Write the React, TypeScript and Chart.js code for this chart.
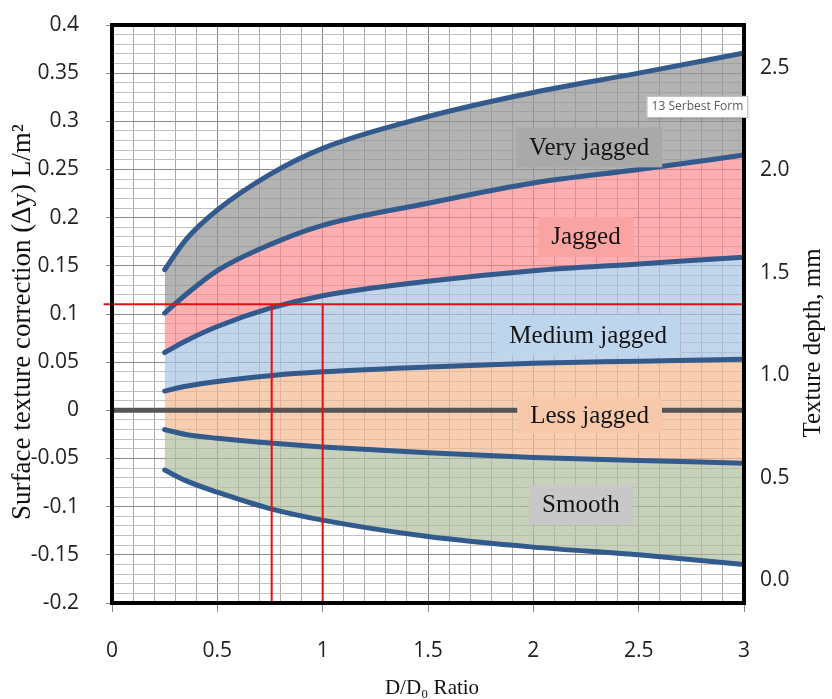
import React, { useEffect, useRef } from 'react';
import { Chart, registerables } from 'chart.js';

Chart.register(...registerables);

// D/D0 ratio sample points
const ratios = [0.25, 0.35, 0.5, 0.75, 1, 1.5, 2, 2.5, 3];
// boundary curves (Surface texture correction, L/m2)
const veryJaggedTop = [0.146, 0.177, 0.208, 0.245, 0.272, 0.305, 0.330, 0.350, 0.371];
const jaggedTop = [0.101, 0.120, 0.145, 0.172, 0.192, 0.215, 0.236, 0.250, 0.265];
const mediumTop = [0.060, 0.072, 0.087, 0.106, 0.119, 0.134, 0.145, 0.152, 0.159];
const lessTop = [0.020, 0.025, 0.030, 0.036, 0.040, 0.045, 0.049, 0.051, 0.053];
const smoothTop = [-0.020, -0.025, -0.029, -0.034, -0.038, -0.044, -0.049, -0.052, -0.055];
const smoothBottom = [-0.062, -0.073, -0.085, -0.102, -0.114, -0.131, -0.142, -0.150, -0.160];

// reference lines
const zeroLineX = [0, 3];
const zeroLineY = [0, 0];
const redHX = [-0.04, 3];
const redHY = [0.11, 0.11];
const redV1X = [0.758, 0.758];
const redV2X = [1, 1];
const redVY = [0.11, -0.2];

// band labels
const bandLabels = ['Very jagged', 'Jagged', 'Medium jagged', 'Less jagged', 'Smooth'];
const bandLabelX = [2.265, 2.25, 2.26, 2.267, 2.226];
const bandLabelY = [0.273, 0.18, 0.078, -0.005, -0.098];
const bandFills = ['rgba(150,150,150,0.72)', 'rgba(250,130,135,0.65)', 'rgba(170,195,225,0.7)', 'rgba(245,185,145,0.7)', 'rgba(175,190,160,0.7)'];
const bandLabelBg = ['#a9a9a9', '#f9a3a3', '#bdd6ee', '#f7c8a9', '#c8c8c8'];

const noteText = '13 Serbest Form';
const noteX = 2.779;
const noteY = 0.315;

// axes
const leftTicks = [-0.2, -0.15, -0.1, -0.05, 0, 0.05, 0.1, 0.15, 0.2, 0.25, 0.3, 0.35, 0.4];
const rightTicks = [0, 0.5, 1, 1.5, 2, 2.5];
const rightMin = -0.111;
const rightMax = 2.708;
const xTitle = 'D/D\u2080 Ratio';
const yTitle = 'Surface texture correction (\u0394y) L/m\u00B2';
const y2Title = 'Texture depth, mm';

const pts = (xs: number[], ys: number[]) => xs.map((x, i) => ({ x, y: ys[i] }));
const isMult = (v: number, step: number) => Math.abs(Math.round(v / step) * step - v) < 1e-6;

const LINE_BLUE = '#325a8d';
const TICK_FONT = { family: 'Open Sans', size: 21 };
const SERIF = 'Liberation Serif';

const noPad = (s: any) => {
  s.paddingTop = 0;
  s.paddingBottom = 0;
  s.paddingLeft = 0;
  s.paddingRight = 0;
};

const overlay = {
  id: 'overlay',
  afterDatasetsDraw(chart: any) {
    const { ctx, chartArea: a, scales } = chart;
    const x = scales.x;
    const y = scales.y;
    ctx.save();
    // frame
    ctx.strokeStyle = '#000';
    ctx.lineWidth = 4;
    ctx.strokeRect(a.left, a.top, a.right - a.left, a.bottom - a.top);

    // band labels
    ctx.font = `25px "${SERIF}"`;
    ctx.textAlign = 'center';
    ctx.textBaseline = 'middle';
    bandLabels.forEach((t, i) => {
      const cx = x.getPixelForValue(bandLabelX[i]);
      const cy = y.getPixelForValue(bandLabelY[i]);
      const w = ctx.measureText(t).width + 26;
      const h = i === 3 ? 36 : 40;
      ctx.fillStyle = bandLabelBg[i];
      ctx.fillRect(cx - w / 2, cy - h / 2, w, h);
      ctx.fillStyle = '#141414';
      ctx.fillText(t, cx, cy + 1);
    });

    // note box
    const nx = x.getPixelForValue(noteX);
    const ny = y.getPixelForValue(noteY);
    ctx.font = '12px "Open Sans"';
    const nw = ctx.measureText(noteText).width + 10;
    const nh = 22;
    ctx.shadowColor = 'rgba(0,0,0,0.25)';
    ctx.shadowBlur = 3;
    ctx.shadowOffsetY = 1;
    ctx.fillStyle = '#ffffff';
    ctx.fillRect(nx - nw / 2, ny - nh / 2, nw, nh);
    ctx.shadowColor = 'transparent';
    ctx.strokeStyle = '#bbbbbb';
    ctx.lineWidth = 1;
    ctx.strokeRect(nx - nw / 2 + 0.5, ny - nh / 2 + 0.5, nw - 1, nh - 1);
    ctx.fillStyle = '#5a5a5a';
    ctx.fillText(noteText, nx, ny);
    ctx.restore();
  },
  afterDraw(chart: any) {
    const { ctx, chartArea: a } = chart;
    ctx.save();
    ctx.fillStyle = '#111';
    ctx.textAlign = 'center';
    ctx.textBaseline = 'middle';
    // x title
    ctx.font = `21px "${SERIF}"`;
    ctx.fillText(xTitle, (a.left + a.right) / 2 + 4, 688);
    // left title
    ctx.save();
    ctx.translate(23, 322);
    ctx.rotate(-Math.PI / 2);
    ctx.font = `27px "${SERIF}"`;
    ctx.fillText(yTitle, 0, 0);
    ctx.restore();
    // right title
    ctx.save();
    ctx.translate(813, 343);
    ctx.rotate(-Math.PI / 2);
    ctx.font = `25px "${SERIF}"`;
    ctx.fillText(y2Title, 0, 0);
    ctx.restore();
    ctx.restore();
  },
};

export default function App() {
  const ref = useRef<HTMLCanvasElement | null>(null);
  useEffect(() => {
    if (!ref.current) return;
    const band = (data: number[], i: number, fill: any) => ({
      data: pts(ratios, data),
      borderColor: LINE_BLUE,
      borderWidth: 5,
      backgroundColor: i >= 0 ? bandFills[i] : 'transparent',
      fill,
      pointRadius: 0,
      cubicInterpolationMode: 'monotone',
      borderCapStyle: 'round',
      order: 2,
    });
    const chart = new Chart(ref.current, {
      type: 'line',
      data: {
        datasets: [
          band(veryJaggedTop, 0, '+1'),
          band(jaggedTop, 1, '+1'),
          band(mediumTop, 2, '+1'),
          band(lessTop, 3, '+1'),
          band(smoothTop, 4, '+1'),
          band(smoothBottom, -1, false),
          {
            data: pts(zeroLineX, zeroLineY),
            borderColor: '#555555',
            borderWidth: 5,
            pointRadius: 0,
            fill: false,
            order: 1,
          },
          {
            data: pts(redHX, redHY),
            borderColor: '#e41010',
            borderWidth: 2,
            pointRadius: 0,
            fill: false,
            clip: false,
            order: 0,
          },
          {
            data: pts(redV1X, redVY),
            borderColor: '#e41010',
            borderWidth: 2,
            pointRadius: 0,
            fill: false,
            order: 0,
          },
          {
            data: pts(redV2X, redVY),
            borderColor: '#e41010',
            borderWidth: 2,
            pointRadius: 0,
            fill: false,
            order: 0,
          },
        ] as any,
      },
      options: {
        responsive: false,
        animation: false,
        devicePixelRatio: 1,
        layout: { padding: { top: 25, left: 0, right: 0, bottom: 0 } },
        plugins: {
          legend: { display: false },
          tooltip: { enabled: false },
          filler: { drawTime: 'beforeDatasetsDraw' } as any,
        },
        scales: {
          x: {
            type: 'linear',
            min: 0,
            max: 3,
            afterFit: (s: any) => { s.height = 96; noPad(s); },
            ticks: {
              stepSize: 0.1,
              autoSkip: false,
              maxRotation: 0,
              padding: 26,
              color: '#222',
              font: TICK_FONT,
              callback: (v: any) => (isMult(Number(v), 0.5) ? String(Math.round(Number(v) * 10) / 10) : ''),
            },
            grid: {
              color: (c: any) => (isMult(c.tick.value, 0.5) ? '#868686' : '#a9a9a9'),
              tickColor: (c: any) => (isMult(c.tick.value, 0.5) ? '#888' : 'transparent'),
              tickLength: 9,
              lineWidth: 1,
            },
            border: { display: false },
          },
          y: {
            type: 'linear',
            position: 'left',
            min: -0.2,
            max: 0.4,
            afterFit: (s: any) => { s.width = 112; noPad(s); },
            ticks: {
              stepSize: 0.01,
              autoSkip: false,
              padding: 27,
              color: '#222',
              font: TICK_FONT,
              callback: (v: any) => {
                const n = Math.round(Number(v) * 100) / 100;
                return leftTicks.some((t) => Math.abs(t - n) < 1e-6) ? String(n) : '';
              },
            },
            grid: {
              color: (c: any) => (isMult(c.tick.value, 0.05) ? '#8a8a8a' : '#c0c0c0'),
              tickColor: (c: any) => (isMult(c.tick.value, 0.05) ? '#888' : 'transparent'),
              tickLength: 6,
              lineWidth: 1,
            },
            border: { display: false },
          },
          y2: {
            type: 'linear',
            position: 'right',
            min: rightMin,
            max: rightMax,
            afterFit: (s: any) => { s.width = 88; noPad(s); },
            afterBuildTicks: (s: any) => { s.ticks = rightTicks.map((v) => ({ value: v })); },
            ticks: {
              padding: 16,
              color: '#222',
              font: TICK_FONT,
              callback: (v: any) => Number(v).toFixed(1),
            },
            grid: { display: false, drawTicks: false },
            border: { display: false },
          },
        },
      },
      plugins: [overlay],
    });
    return () => chart.destroy();
  }, []);
  return (
    <div style={{ position: 'absolute', left: 0, top: 0, width: 832, height: 699, background: '#fff' }}>
      <canvas ref={ref} width={832} height={699} style={{ display: 'block' }} />
    </div>
  );
}
